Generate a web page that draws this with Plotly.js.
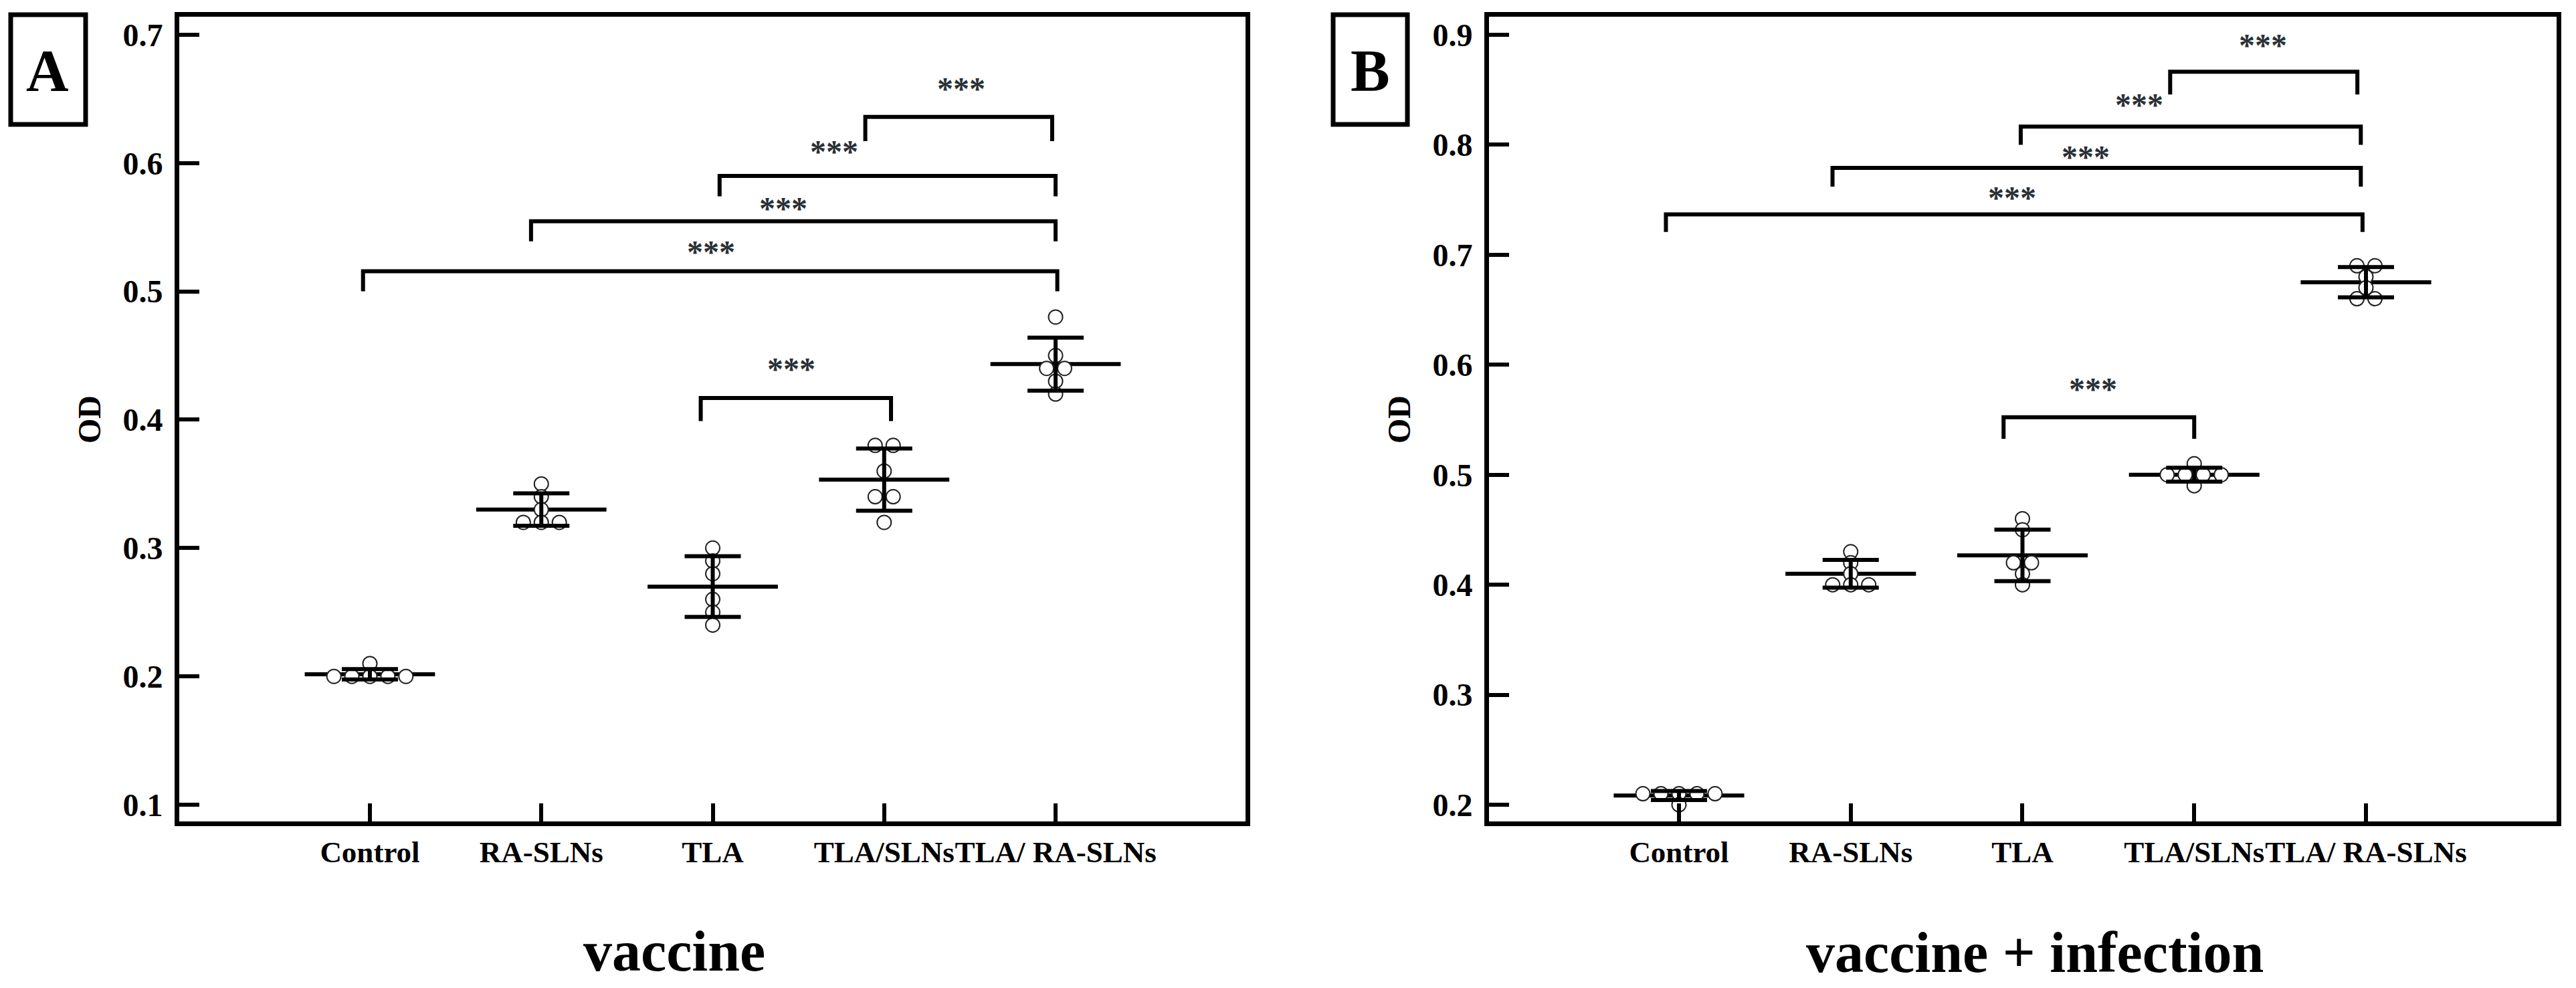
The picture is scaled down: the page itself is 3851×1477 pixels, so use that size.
<!DOCTYPE html>
<html>
<head>
<meta charset="utf-8">
<script src="https://cdn.plot.ly/plotly-3.0.1.min.js"></script>
<style>
  html, body { margin: 0; padding: 0; background: #fff; }
  #chart { width: 3851px; height: 1477px; }
</style>
</head>
<body>
<div id="chart"></div>
<script>
// ---------------- DATA ----------------
const categories = ['Control', 'RA-SLNs', 'TLA', 'TLA/SLNs', 'TLA/ RA-SLNs'];

// Panel A: vaccine (OD of individual samples)
const vacControl   = [0.20, 0.20, 0.20, 0.20, 0.20, 0.21];
const vacRASLNs    = [0.35, 0.34, 0.33, 0.32, 0.32, 0.32];
const vacTLA       = [0.30, 0.29, 0.28, 0.26, 0.25, 0.24];
const vacTLASLNs   = [0.38, 0.38, 0.36, 0.34, 0.34, 0.32];
const vacTLARASLNs = [0.48, 0.45, 0.44, 0.44, 0.43, 0.42];

// Panel B: vaccine + infection
const infControl   = [0.21, 0.21, 0.21, 0.21, 0.21, 0.20];
const infRASLNs    = [0.43, 0.42, 0.41, 0.40, 0.40, 0.40];
const infTLA       = [0.46, 0.45, 0.42, 0.42, 0.41, 0.40];
const infTLASLNs   = [0.51, 0.50, 0.50, 0.50, 0.50, 0.49];
const infTLARASLNs = [0.69, 0.69, 0.68, 0.67, 0.66, 0.66];

const sigLabel = '***';
// significance comparisons: [group i, group j]
const pairsA = [[0, 4], [1, 4], [2, 4], [3, 4], [2, 3]];
const pairsB = [[0, 4], [1, 4], [2, 4], [3, 4], [2, 3]];

// ---------------- STYLE / POSITION ----------------
const W = 3851, H = 1477;
const FONT = 'Liberation Serif, Times New Roman, serif';
// bracket geometry (data units): left x, right x, top y, leg end y, text x, text y
const bracketGeomA = [
  [-0.04, 4.01, 0.5157, 0.500, 1.99, 0.535],
  [0.94, 4.00, 0.5546, 0.539, 2.41, 0.569],
  [2.04, 4.00, 0.590, 0.574, 2.71, 0.613],
  [2.89, 3.98, 0.636, 0.617, 3.45, 0.662],
  [1.93, 3.04, 0.4169, 0.399, 2.46, 0.444]
];
const bracketGeomB = [
  [-0.076, 3.98, 0.7367, 0.7207, 1.94, 0.757],
  [0.894, 3.97, 0.779, 0.762, 2.37, 0.794],
  [1.99, 3.97, 0.8165, 0.800, 2.68, 0.841],
  [2.86, 3.95, 0.8664, 0.8457, 3.40, 0.8956],
  [1.89, 3.00, 0.5522, 0.5327, 2.41, 0.5826]
];

function mean(a) { return a.reduce((s, v) => s + v, 0) / a.length; }
function sd(a) {
  const m = mean(a);
  return Math.sqrt(a.reduce((s, v) => s + (v - m) * (v - m), 0) / (a.length - 1));
}

// spread identical values horizontally (beeswarm-like)
function swarm(groups) {
  const xs = [], ys = [];
  const step = 0.105;
  groups.forEach((g, i) => {
    const counts = {};
    g.forEach(v => { const k = v.toFixed(4); counts[k] = (counts[k] || 0) + 1; });
    const seen = {};
    g.forEach(v => {
      const k = v.toFixed(4);
      const n = counts[k];
      const idx = seen[k] || 0;
      seen[k] = idx + 1;
      xs.push(i + (idx - (n - 1) / 2) * step);
      ys.push(v);
    });
  });
  return { xs, ys };
}

function panelTraces(groups, xa, ya) {
  const means = groups.map(mean);
  const sds = groups.map(sd);
  const half = 0.38;
  const mx = [], my = [];
  means.forEach((m, i) => { mx.push(i - half, i + half, null); my.push(m, m, null); });
  const sw = swarm(groups);
  return [
    { type: 'scatter', mode: 'lines', x: mx, y: my, xaxis: xa, yaxis: ya,
      line: { color: '#000', width: 6 }, hoverinfo: 'skip', showlegend: false },
    { type: 'scatter', mode: 'markers', x: sw.xs, y: sw.ys, xaxis: xa, yaxis: ya,
      marker: { symbol: 'circle', size: 21, color: '#fff', line: { color: '#222', width: 2 } },
      showlegend: false },
    { type: 'scatter', mode: 'markers', x: groups.map((g, i) => i), y: means, xaxis: xa, yaxis: ya,
      marker: { size: 2, color: 'rgba(0,0,0,0)' },
      error_y: { type: 'data', array: sds, visible: true, color: '#000', thickness: 6, width: 42 },
      showlegend: false }
  ];
}

const groupsA = [vacControl, vacRASLNs, vacTLA, vacTLASLNs, vacTLARASLNs];
const groupsB = [infControl, infRASLNs, infTLA, infTLASLNs, infTLARASLNs];

const data = [].concat(panelTraces(groupsA, 'x', 'y'), panelTraces(groupsB, 'x2', 'y2'));

const shapes = [];
const annotations = [];
function addBrackets(pairs, geom, xr, yr) {
  pairs.forEach((p, k) => {
    const g = geom[k];
    shapes.push({ type: 'path', xref: xr, yref: yr,
      path: `M ${g[0]},${g[3]} L ${g[0]},${g[2]} L ${g[1]},${g[2]} L ${g[1]},${g[3]}`,
      line: { color: '#000', width: 6 } });
    annotations.push({ xref: xr, yref: yr, x: g[4], y: g[5], text: sigLabel, showarrow: false,
      xanchor: 'center', yanchor: 'middle', yshift: -8,
      font: { family: FONT, size: 48, color: '#2a2f36', weight: 'bold' } });
  });
}
addBrackets(pairsA, bracketGeomA, 'x', 'y');
addBrackets(pairsB, bracketGeomB, 'x2', 'y2');

// panel letter boxes
function px(x) { return x / W; }
function py(y) { return (H - y) / H; }
[[16, 128, 'A', 71], [1993, 2104, 'B', 2048]].forEach(b => {
  shapes.push({ type: 'rect', xref: 'paper', yref: 'paper', x0: px(b[0]), x1: px(b[1]),
    y0: py(186), y1: py(22), line: { color: '#000', width: 7 }, fillcolor: 'rgba(0,0,0,0)' });
  annotations.push({ xref: 'paper', yref: 'paper', x: px(b[3]), y: py(106), text: b[2], showarrow: false,
    xanchor: 'center', yanchor: 'middle', font: { family: FONT, size: 88, color: '#000', weight: 'bold' } });
});

// axis titles
annotations.push({ xref: 'paper', yref: 'paper', x: px(1008), y: py(1422), text: 'vaccine', showarrow: false,
  xanchor: 'center', yanchor: 'middle', font: { family: FONT, size: 86, color: '#000', weight: 'bold' } });
annotations.push({ xref: 'paper', yref: 'paper', x: px(3042), y: py(1424), text: 'vaccine + infection', showarrow: false,
  xanchor: 'center', yanchor: 'middle', font: { family: FONT, size: 86, color: '#000', weight: 'bold' } });
annotations.push({ xref: 'paper', yref: 'paper', x: px(133), y: py(627), text: 'OD', textangle: -90, showarrow: false,
  xanchor: 'center', yanchor: 'middle', font: { family: FONT, size: 48, color: '#000', weight: 'bold' } });
annotations.push({ xref: 'paper', yref: 'paper', x: px(2091), y: py(627), text: 'OD', textangle: -90, showarrow: false,
  xanchor: 'center', yanchor: 'middle', font: { family: FONT, size: 48, color: '#000', weight: 'bold' } });

const xTickFont = { family: FONT, size: 45, color: '#000', weight: 'bold' };
const yTickFont = { family: FONT, size: 48, color: '#000', weight: 'bold' };
function xAxis(dom, range, anchor) {
  return { domain: dom, range: range, anchor: anchor, tickmode: 'array',
    tickvals: categories.map((c, i) => i), ticktext: categories, tickangle: 0,
    ticks: 'inside', ticklen: 27, tickwidth: 6, tickcolor: '#000',
    showline: true, linewidth: 7, linecolor: '#000', mirror: true,
    showgrid: false, zeroline: false, tickfont: xTickFont, ticklabelstandoff: 0, fixedrange: true };
}
function yAxis(dom, range, tick0, anchor) {
  return { domain: dom, range: range, anchor: anchor, tick0: tick0, dtick: 0.1, tickformat: '.1f',
    ticks: 'inside', ticklen: 30, tickwidth: 6, tickcolor: '#000',
    showline: true, linewidth: 7, linecolor: '#000', mirror: true,
    showgrid: false, zeroline: false, tickfont: yTickFont, ticklabelstandoff: 8, fixedrange: true };
}
const yDom = [py(1228), py(25)];

const layout = {
  width: W, height: H,
  margin: { l: 0, r: 0, t: 0, b: 0, pad: 0 },
  paper_bgcolor: '#fff', plot_bgcolor: '#fff',
  showlegend: false,
  xaxis: xAxis([px(268), px(1862)], [-1.112, 5.108], 'y'),
  yaxis: yAxis(yDom, [0.087, 0.714], 0.1, 'x'),
  xaxis2: xAxis([px(2226), px(3822)], [-1.106, 5.11], 'y2'),
  yaxis2: yAxis(yDom, [0.1848, 0.9164], 0.2, 'x2'),
  shapes: shapes,
  annotations: annotations
};

Plotly.newPlot('chart', data, layout, { staticPlot: true, displayModeBar: false });
</script>
</body>
</html>
